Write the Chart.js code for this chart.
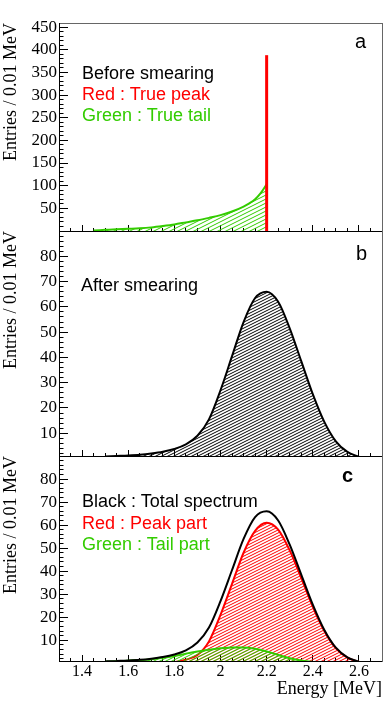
<!DOCTYPE html>
<html>
<head>
<meta charset="utf-8">
<script src="https://cdn.jsdelivr.net/npm/chart.js@4.4.0/dist/chart.umd.min.js"></script>
<style>
  body { margin: 0; background: #fff; }
  #wrap { position: relative; width: 390px; height: 709px; overflow: hidden; }
  canvas { position: absolute; left: 0; }
  .note { position: absolute; font-family: 'Liberation Sans', Arial, sans-serif; font-size: 18px; line-height: 18px; white-space: nowrap; }
  .tag { font-size: 20px; line-height: 20px; }
</style>
</head>
<body>
<div id="wrap">
  <canvas id="panelA" width="390" height="232" style="top:0px"></canvas>
  <canvas id="panelB" width="390" height="226" style="top:231px"></canvas>
  <canvas id="panelC" width="390" height="253" style="top:456px"></canvas>

  <div class="note" style="left:82px; top:64px; color:#000">Before smearing</div>
  <div class="note" style="left:82px; top:85px; color:#ff0000">Red : True peak</div>
  <div class="note" style="left:82px; top:106px; color:#33cc00">Green : True tail</div>
  <div class="note tag" style="left:355px; top:31px; color:#000">a</div>

  <div class="note" style="left:81px; top:276px; color:#000">After smearing</div>
  <div class="note tag" style="left:356px; top:243px; color:#000">b</div>

  <div class="note" style="left:82px; top:492px; color:#000">Black : Total spectrum</div>
  <div class="note" style="left:82px; top:514px; color:#ff0000">Red : Peak part</div>
  <div class="note" style="left:82px; top:535px; color:#33cc00">Green : Tail part</div>
  <div class="note tag" style="left:342px; top:465px; color:#000; font-weight:bold">c</div>
</div>
<script>
// panel a : before smearing (energy in MeV)
const tailEnergy = [1.45, 1.50, 1.55, 1.60, 1.65, 1.70, 1.75, 1.80, 1.85, 1.90, 1.95,
                    2.00, 2.05, 2.10, 2.125, 2.15, 2.175, 2.20];
const trueTail = [1.3, 2.5, 3.7, 4.8, 6, 8, 11, 14.5, 19, 23.5, 29,
                  35, 43, 54, 61, 70, 84, 103];
const truePeakEnergy = 2.2;
const truePeakHeight = 388;

// panel b / c : after smearing
const energy = [1.45, 1.50, 1.55, 1.60, 1.65, 1.70, 1.75, 1.80, 1.85, 1.90, 1.95, 2.00, 2.05,
                2.10, 2.15, 2.20, 2.25, 2.30, 2.35, 2.40, 2.45, 2.50, 2.55, 2.60, 2.65];
const totalSpectrum = [null, 0.8, 1.0, 1.2, 1.5, 2.0, 2.7, 3.8, 5.6, 9.0, 15.5, 27, 40.5,
                       54, 63.5, 66, 62, 51.5, 38.5, 25.5, 14.5, 6.8, 2.6, 0.7, null];
const peakPart = [null, null, null, null, null, null, null, 0.5, 1.6, 3.6, 9.5, 21, 34.5,
                  48, 57.5, 61, 58, 49, 37, 24.5, 14, 6.5, 2.5, 0.6, null];
const tailPart = [null, 0.7, 0.9, 1.1, 1.4, 1.8, 2.4, 3.2, 4.2, 5.1, 5.9, 6.5, 6.9,
                  6.9, 6.3, 5.1, 3.6, 2.2, 1.2, 0.6, null, null, null, null, null];

// axes
const xTicks = [1.4, 1.6, 1.8, 2, 2.2, 2.4, 2.6];
const yTicksA = [50, 100, 150, 200, 250, 300, 350, 400, 450];
const yTicksBC = [10, 20, 30, 40, 50, 60, 70, 80];

const xMin = 1.3, xMax = 2.7;
const yRangeA = [0, 459];
const yRangeBC = [1, 90];

const BLACK = '#000000';
const RED = '#ff0000';
const GREEN = '#33cc00';
const FRAME = '#666666';

Chart.defaults.font.family = "'Liberation Serif', 'Times New Roman', serif";
Chart.defaults.color = '#000';
Chart.defaults.animation = false;

function steps(from, to, step) {
  const out = [];
  for (let v = from; v <= to + 1e-9; v += step) out.push(Math.round(v * 1000) / 1000);
  return out;
}

function points(xs, values) {
  return xs.map((e, i) => ({ x: e, y: values[i] }));
}

function hatch(color, gap) {
  const c = document.createElement('canvas');
  c.width = 24;
  c.height = 12;
  const g = c.getContext('2d');
  g.strokeStyle = color;
  g.lineWidth = 1;
  for (let o = -12; o <= 36; o += gap) {
    g.beginPath();
    g.moveTo(0, o);
    g.lineTo(24, o - 12);
    g.stroke();
  }
  return g.createPattern(c, 'repeat');
}

// no extra room around the plot area for the end labels
function noPadding(s) {
  s.paddingTop = 0;
  s.paddingBottom = 0;
  s.paddingLeft = 0;
  s.paddingRight = 0;
}

function majorX(showLabels, height) {
  return {
    type: 'linear', position: 'bottom', min: xMin, max: xMax, weight: 1,
    afterBuildTicks: (s) => { s.ticks = xTicks.map((v) => ({ value: v })); },
    afterFit: (s) => { s.height = height; noPadding(s); },
    ticks: { display: showLabels, padding: 7, autoSkip: false, maxRotation: 0, font: { size: 16 }, callback: (v) => String(v) },
    grid: { drawOnChartArea: false, tickLength: -6, tickColor: BLACK },
    border: { color: BLACK },
    title: {
      display: showLabels, text: 'Energy [MeV]', align: 'end',
      font: { size: 18 }, padding: { top: 0, bottom: 9 },
    },
  };
}

function minorX() {
  return {
    type: 'linear', position: 'bottom', min: xMin, max: xMax, weight: 0,
    afterBuildTicks: (s) => { s.ticks = steps(xMin, xMax, 0.05).map((v) => ({ value: v })); },
    afterFit: (s) => { s.height = 0; noPadding(s); },
    ticks: { display: false },
    grid: { drawOnChartArea: false, tickLength: -3, tickColor: BLACK },
    border: { display: false },
  };
}

function majorY(ticks, range) {
  return {
    type: 'linear', position: 'left', min: range[0], max: range[1], weight: 1,
    afterBuildTicks: (s) => { s.ticks = ticks.map((v) => ({ value: v })); },
    afterFit: (s) => { s.width = 59; noPadding(s); },
    ticks: { padding: 11, font: { size: 17 }, callback: (v) => String(v) },
    grid: { drawOnChartArea: false, tickLength: -9, tickColor: BLACK },
    border: { color: BLACK },
    title: {
      display: true, text: 'Entries / 0.01 MeV', align: 'end',
      font: { size: 18 }, padding: 0,
    },
  };
}

function minorY(range, step) {
  return {
    type: 'linear', position: 'left', min: range[0], max: range[1], weight: 0,
    afterBuildTicks: (s) => { s.ticks = steps(step, range[1], step).map((v) => ({ value: v })); },
    afterFit: (s) => { s.width = 0; noPadding(s); },
    ticks: { display: false },
    grid: { drawOnChartArea: false, tickLength: -4.5, tickColor: BLACK },
    border: { display: false },
  };
}

function frame(position) {
  const horizontal = position === 'top';
  return {
    type: 'linear', position: position, min: 0, max: 1,
    afterFit: (s) => { if (horizontal) s.height = 0; else s.width = 0; noPadding(s); },
    ticks: { display: false },
    grid: { display: false },
    border: { color: FRAME },
  };
}

function panelOptions(scales, padding) {
  return {
    responsive: false,
    animation: false,
    events: [],
    layout: { padding: padding },
    plugins: { legend: { display: false }, tooltip: { enabled: false } },
    elements: { point: { radius: 0 } },
    scales: scales,
  };
}

function loadPanelA() {
  new Chart(document.getElementById('panelA'), {
    type: 'line',
    data: {
      datasets: [
        {
          data: [{ x: truePeakEnergy, y: 0 }, { x: truePeakEnergy, y: truePeakHeight }],
          borderColor: RED, borderWidth: 3, fill: false,
        },
        {
          data: points(tailEnergy, trueTail),
          borderColor: GREEN, borderWidth: 2, cubicInterpolationMode: 'monotone',
          fill: 'origin', backgroundColor: hatch(GREEN, 4),
        },
      ],
    },
    options: panelOptions({
      x: majorX(false, 0),
      xm: minorX(),
      xt: frame('top'),
      y: majorY(yTicksA, yRangeA),
      ym: minorY(yRangeA, 10),
      yr: frame('right'),
    }, { top: 23, bottom: 1, left: 0, right: 8 }),
  });
}

function loadPanelB() {
  new Chart(document.getElementById('panelB'), {
    type: 'line',
    data: {
      datasets: [
        {
          data: points(energy, totalSpectrum),
          borderColor: BLACK, borderWidth: 2, cubicInterpolationMode: 'monotone',
          fill: 'origin', backgroundColor: hatch(BLACK, 3),
        },
      ],
    },
    options: panelOptions({
      x: majorX(false, 0),
      xm: minorX(),
      y: majorY(yTicksBC, yRangeBC),
      ym: minorY(yRangeBC, 2),
      yr: frame('right'),
    }, { top: 0, bottom: 1, left: 0, right: 8 }),
  });
}

function loadPanelC() {
  new Chart(document.getElementById('panelC'), {
    type: 'line',
    data: {
      datasets: [
        {
          data: points(energy, totalSpectrum),
          borderColor: BLACK, borderWidth: 2, cubicInterpolationMode: 'monotone', fill: false,
        },
        {
          data: points(energy, tailPart),
          borderColor: GREEN, borderWidth: 2, cubicInterpolationMode: 'monotone',
          fill: 'origin', backgroundColor: hatch(GREEN, 3),
        },
        {
          data: points(energy, peakPart),
          borderColor: RED, borderWidth: 2, cubicInterpolationMode: 'monotone',
          fill: 'origin', backgroundColor: hatch(RED, 3),
        },
      ],
    },
    options: panelOptions({
      x: majorX(true, 48),
      xm: minorX(),
      y: majorY(yTicksBC, yRangeBC),
      ym: minorY(yRangeBC, 2),
      yr: frame('right'),
    }, { top: 0, bottom: 0, left: 0, right: 8 }),
  });
}

loadPanelA();
loadPanelB();
loadPanelC();
</script>
</body>
</html>
